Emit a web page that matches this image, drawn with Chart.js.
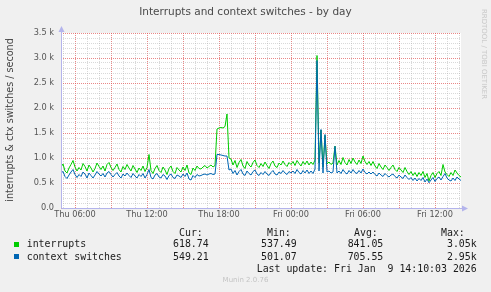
<!DOCTYPE html>
<html>
<head>
<meta charset="utf-8">
<script src="https://cdn.jsdelivr.net/npm/chart.js@4/dist/chart.umd.min.js"></script>
<style>
  html, body { margin: 0; padding: 0; background: #f0f0f0; }
  #wrap { position: relative; width: 491px; height: 292px; overflow: hidden; font-family: "DejaVu Sans", sans-serif; }
  canvas { position: absolute; left: 0; top: 0; }
  .t { position: absolute; white-space: pre; }
  .mono { font-family: "DejaVu Sans Mono", monospace; font-size: 9.9px; line-height: 12px; color: #1a1a1a; }
  .r { text-align: right; }
  .box { position: absolute; width: 5px; height: 5px; }
</style>
</head>
<body>
<div id="wrap">
  <canvas id="chart" width="491" height="292"></canvas>

  <div class="t" style="left:0; top:5px; width:491px; text-align:center; font-size:10.5px; line-height:13px; color:#4a4a4a;">Interrupts and context switches - by day</div>
  <div class="t" style="left:-90px; top:113.5px; width:200px; text-align:center; font-size:9.6px; line-height:12px; color:#444; transform:rotate(-90deg);">interrupts &amp; ctx switches / second</div>
  <div class="t" style="left:429px; top:49px; width:110px; text-align:center; font-size:7px; line-height:10px; color:#c8c8c8; transform:rotate(90deg);">RRDTOOL / TOBI OETIKER</div>

  <div class="t mono" style="left:179px; top:226.7px;">Cur:</div>
  <div class="t mono" style="left:267px; top:226.7px;">Min:</div>
  <div class="t mono" style="left:354px; top:226.7px;">Avg:</div>
  <div class="t mono" style="left:441px; top:226.7px;">Max:</div>

  <div class="box" style="left:14px; top:242px; background:#00cc00;"></div>
  <div class="t mono" style="left:26.7px; top:238.3px;">interrupts</div>
  <div class="t mono r" style="left:148.7px; top:238.3px; width:60px;">618.74</div>
  <div class="t mono r" style="left:236.7px; top:238.3px; width:60px;">537.49</div>
  <div class="t mono r" style="left:323.3px; top:238.3px; width:60px;">841.05</div>
  <div class="t mono r" style="left:416.7px; top:238.3px; width:60px;">3.05k</div>

  <div class="box" style="left:14px; top:254.3px; background:#0066b3;"></div>
  <div class="t mono" style="left:26.7px; top:250.7px;">context switches</div>
  <div class="t mono r" style="left:148.7px; top:250.7px; width:60px;">549.21</div>
  <div class="t mono r" style="left:236.7px; top:250.7px; width:60px;">501.07</div>
  <div class="t mono r" style="left:323.3px; top:250.7px; width:60px;">705.55</div>
  <div class="t mono r" style="left:416.7px; top:250.7px; width:60px;">2.95k</div>

  <div class="t mono r" style="left:176.7px; top:263px; width:300px;">Last update: Fri Jan  9 14:10:03 2026</div>
  <div class="t" style="left:0; top:275.5px; width:491px; text-align:center; font-size:7px; line-height:9px; color:#c4c4c4;">Munin 2.0.76</div>
</div>

<script>
// 10 minute samples, Thu 04:50 -> Fri 14:10
const startHour = 4 + 50 / 60;
const stepHours = 10 / 60;

const interrupts = [
  820, 880, 740, 700, 800, 870, 950, 820, 740, 810,
  760, 890, 830, 740, 860, 800, 720, 790, 900, 830,
  770, 840, 740, 870, 910, 810, 750, 810, 880, 770,
  720, 830, 770, 870, 800, 740, 850, 780, 710, 800,
  750, 840, 730, 810, 1070, 750, 690, 790, 850, 750,
  710, 820, 760, 670, 790, 840, 730, 690, 810, 760,
  720, 820, 750, 860, 700, 670, 800, 750, 840, 790,
  780, 820, 850, 800, 830, 860, 820, 850, 1580, 1600,
  1610, 1600, 1630, 1880, 1000, 980, 860, 950, 810, 910,
  970, 840, 790, 930, 860, 820, 910, 960, 850, 810,
  890, 830, 920, 850, 790, 890, 940, 840, 810, 900,
  860, 940, 870, 830, 910, 870, 930, 850, 950, 890,
  840, 930, 870, 940, 860, 920, 870, 960, 3050, 900,
  1560, 820, 1450, 880, 920, 870, 900, 1240, 860, 950,
  870, 1010, 910, 860, 970, 890, 1000, 920, 870, 960,
  890, 1040, 930, 870, 930, 850, 930, 840, 790, 890,
  820, 770, 860, 810, 750, 810, 860, 770, 730, 810,
  760, 710, 810, 730, 670, 730, 650, 710, 630, 710,
  650, 730, 610, 690, 540, 650, 710, 610, 690, 730,
  650, 870, 720, 670, 630, 710, 650, 760, 700, 650,
  620
];

const ctxSwitches = [
  700, 730, 630, 590, 660, 720, 770, 670, 610, 670,
  630, 720, 680, 600, 700, 650, 600, 660, 730, 680,
  640, 690, 620, 700, 730, 670, 620, 670, 710, 640,
  600, 680, 640, 700, 650, 610, 690, 640, 600, 670,
  630, 690, 600, 670, 770, 610, 580, 660, 690, 620,
  600, 670, 640, 570, 650, 680, 610, 590, 660, 640,
  610, 680, 630, 700, 580, 560, 650, 610, 670, 640,
  650, 670, 680, 660, 680, 690, 670, 680, 1070, 1070,
  1060, 1050, 1040, 1040, 760, 780, 690, 750, 660, 730,
  770, 680, 650, 740, 690, 660, 730, 760, 680, 650,
  710, 670, 730, 680, 650, 710, 750, 680, 660, 720,
  690, 750, 700, 670, 730, 700, 740, 690, 770, 710,
  680, 750, 700, 760, 690, 740, 690, 780, 2950, 740,
  1570, 700, 1470, 720, 740, 700, 720, 1234, 700, 740,
  690, 770, 710, 680, 750, 700, 770, 710, 690, 750,
  700, 780, 710, 680, 720, 680, 720, 670, 640, 700,
  660, 630, 690, 650, 620, 660, 680, 630, 600, 660,
  620, 590, 660, 610, 570, 610, 550, 600, 540, 590,
  550, 610, 520, 580, 505, 560, 610, 530, 590, 620,
  560, 630, 690, 600, 560, 540, 600, 550, 620, 580,
  550
];

const xTickHours = [6, 12, 18, 24, 30, 36];
const xTickLabels = ['Thu 06:00', 'Thu 12:00', 'Thu 18:00', 'Fri 00:00', 'Fri 06:00', 'Fri 12:00'];
const yTickValues = [0, 500, 1000, 1500, 2000, 2500, 3000, 3500];
const yTickLabels = ['0.0', '0.5 k', '1.0 k', '1.5 k', '2.0 k', '2.5 k', '3.0 k', '3.5 k'];

const GRID_MINOR = 'rgba(170,170,170,0.45)';
const GRID_MAJOR = 'rgba(225,85,85,0.7)';
const AXIS_COLOR = '#b4b4ec';

function toPoints(values) {
  return values.map((v, i) => ({ x: startHour + i * stepHours, y: v }));
}

const endHour = startHour + (interrupts.length - 1) * stepHours;

// white canvas behind the plot, axis lines with arrows on top
const frame = {
  id: 'frame',
  beforeDraw(chart) {
    const { ctx, chartArea: a } = chart;
    ctx.save();
    ctx.fillStyle = '#ffffff';
    ctx.fillRect(a.left, a.top, a.right - a.left, a.bottom - a.top);
    ctx.restore();
  },
  afterDraw(chart) {
    const { ctx, chartArea: a } = chart;
    const x0 = Math.round(a.left) + 0.5;
    const y0 = Math.round(a.bottom) + 0.5;
    ctx.save();
    ctx.strokeStyle = AXIS_COLOR;
    ctx.fillStyle = AXIS_COLOR;
    ctx.lineWidth = 1;
    ctx.beginPath();
    ctx.moveTo(x0, y0);
    ctx.lineTo(x0, a.top - 3);
    ctx.moveTo(x0, y0);
    ctx.lineTo(a.right + 3, y0);
    ctx.stroke();
    ctx.beginPath();
    ctx.moveTo(x0, a.top - 7);
    ctx.lineTo(x0 - 3, a.top - 1);
    ctx.lineTo(x0 + 3, a.top - 1);
    ctx.closePath();
    ctx.fill();
    ctx.beginPath();
    ctx.moveTo(a.right + 7, y0);
    ctx.lineTo(a.right + 1, y0 - 3);
    ctx.lineTo(a.right + 1, y0 + 3);
    ctx.closePath();
    ctx.fill();
    ctx.restore();
  }
};

new Chart(document.getElementById('chart'), {
  type: 'line',
  data: {
    datasets: [{
      label: 'interrupts',
      data: toPoints(interrupts),
      borderColor: '#00cc00',
      borderWidth: 1,
      pointRadius: 0,
      tension: 0,
      order: 1
    }, {
      label: 'context switches',
      data: toPoints(ctxSwitches),
      borderColor: '#0066b3',
      borderWidth: 1,
      pointRadius: 0,
      tension: 0,
      order: 0
    }]
  },
  options: {
    responsive: false,
    animation: false,
    devicePixelRatio: 1,
    layout: { padding: { left: 0, right: 30, top: 33, bottom: 64 } },
    plugins: { legend: { display: false }, tooltip: { enabled: false } },
    scales: {
      x: {
        type: 'linear',
        min: startHour,
        max: endHour,
        afterFit: s => { s.height = 20; },
        afterBuildTicks: s => {
          const t = [];
          for (let h = Math.ceil(startHour); h <= endHour; h++) t.push({ value: h });
          s.ticks = t;
        },
        ticks: {
          autoSkip: false,
          maxRotation: 0,
          padding: 2,
          color: '#555',
          font: { family: 'DejaVu Sans', size: 8.2 },
          callback: v => {
            const k = xTickHours.indexOf(v);
            return k >= 0 ? xTickLabels[k] : '';
          }
        },
        grid: {
          drawTicks: false,
          lineWidth: 1,
          color: c => (c.tick && c.tick.value % 3 === 0 ? GRID_MAJOR : GRID_MINOR)
        },
        border: { display: false, dash: [1, 1] }
      },
      y: {
        min: 0,
        max: 3500,
        afterFit: s => { s.width = 61; },
        afterBuildTicks: s => {
          const t = [];
          for (let v = 0; v <= 3500; v += 100) t.push({ value: v });
          s.ticks = t;
        },
        ticks: {
          autoSkip: false,
          padding: 7,
          color: '#555',
          font: { family: 'DejaVu Sans', size: 8.2 },
          callback: v => {
            const k = yTickValues.indexOf(v);
            return k >= 0 ? yTickLabels[k] : '';
          }
        },
        grid: {
          drawTicks: false,
          lineWidth: 1,
          color: c => (c.tick && c.tick.value % 500 === 0 ? GRID_MAJOR : GRID_MINOR)
        },
        border: { display: false, dash: [1, 1] }
      }
    }
  },
  plugins: [frame]
});
</script>
</body>
</html>
